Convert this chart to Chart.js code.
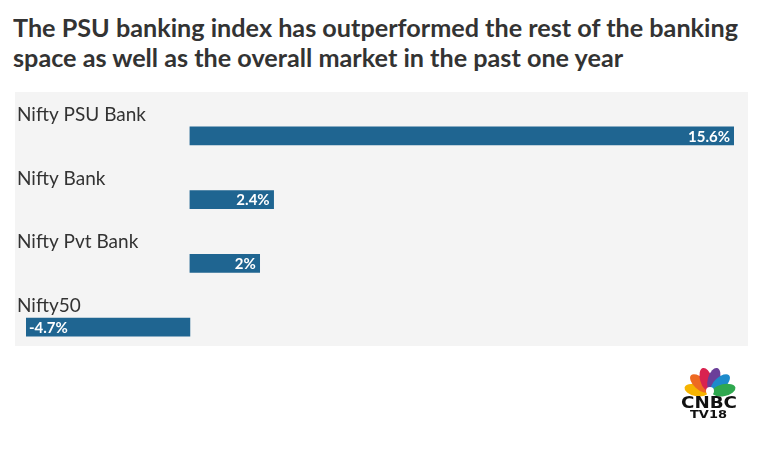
<!DOCTYPE html>
<html lang="en">
<head>
  <meta charset="UTF-8">
  <title>PSU Banking Index Performance</title>
  <script src="https://cdn.jsdelivr.net/npm/chart.js"></script>
  <style>
    html, body {
      margin: 0;
      padding: 0;
      background: #fff;
      width: 760px;
      height: 462px;
      overflow: hidden;
      font-family: 'Lato', sans-serif;
    }
    #title {
      position: absolute;
      left: 13px;
      top: 13px;
      margin: 0;
      font-weight: bold;
      font-size: 24px;
      line-height: 30px;
      color: #333;
      white-space: nowrap;
    }
    #title span {
      display: inline-block;
      transform-origin: left center;
    }
    #panel {
      position: absolute;
      left: 15px;
      top: 92px;
      width: 733px;
      height: 254px;
      background: #f4f4f4;
    }
    #wrap {
      position: absolute;
      left: 0;
      top: 0;
      width: 760px;
      height: 462px;
    }
    #logo {
      position: absolute;
      left: 678px;
      top: 362px;
    }
  </style>
</head>
<body>

  <h1 id="title"><span>The PSU banking index has outperformed the rest of the banking</span><br><span>space as well as the overall market in the past one year</span></h1>
  <div id="panel"></div>
  <div id="wrap"><canvas id="chart" width="760" height="462"></canvas></div>

  <svg id="logo" width="64" height="60" viewBox="0 0 64 60">
    <g transform="translate(32,31)">
      <ellipse cx="0" cy="-14" rx="6" ry="12" fill="#f6b400" transform="rotate(-78)"/>
      <ellipse cx="0" cy="-14" rx="6" ry="12" fill="#ee6a22" transform="rotate(-47)"/>
      <ellipse cx="0" cy="-14" rx="6" ry="12" fill="#d9234f" transform="rotate(-16)"/>
      <ellipse cx="0" cy="-14" rx="6" ry="12" fill="#6b3f99" transform="rotate(16)"/>
      <ellipse cx="0" cy="-14" rx="6" ry="12" fill="#1d8acb" transform="rotate(47)"/>
      <ellipse cx="0" cy="-14" rx="6" ry="12" fill="#2fa84f" transform="rotate(78)"/>
      <circle cx="0" cy="-2" r="4" fill="#fff"/>
    </g>
    <text x="3" y="46" font-family="DejaVu Sans" font-weight="bold" font-size="15" textLength="56" lengthAdjust="spacingAndGlyphs" fill="#111">CNBC</text>
    <text x="12" y="56" font-family="DejaVu Sans" font-weight="bold" font-size="11" textLength="37" lengthAdjust="spacingAndGlyphs" fill="#111">TV18</text>
  </svg>

  <script>
    const categories = ['Nifty PSU Bank', 'Nifty Bank', 'Nifty Pvt Bank', 'Nifty50'];
    const returns = [15.6, 2.4, 2, -4.7];
    const valueLabels = ['15.6%', '2.4%', '2%', '-4.7%'];

    const barColor = '#1f6591';

    // stretch title to the reference width (same factor on both lines)
    const titleSpans = document.querySelectorAll('#title span');
    const stretch = 725 / titleSpans[0].getBoundingClientRect().width;
    titleSpans.forEach(s => { s.style.transform = 'scaleX(' + stretch + ')'; });

    // category names above bars, values inside bar ends
    const labelPlugin = {
      id: 'barLabels',
      afterDatasetsDraw(chart) {
        const c = chart.ctx;
        const meta = chart.getDatasetMeta(0);
        meta.data.forEach((bar, i) => {
          const top = bar.y - bar.height / 2;
          c.save();
          c.fillStyle = '#333';
          c.font = '19px Lato, sans-serif';
          c.textAlign = 'left';
          c.textBaseline = 'alphabetic';
          c.fillText(categories[i], 17, top - 6);

          c.fillStyle = '#fff';
          c.font = 'bold 15px Lato, sans-serif';
          c.textBaseline = 'middle';
          if (returns[i] >= 0) {
            c.textAlign = 'right';
            c.fillText(valueLabels[i], bar.x - 4, bar.y + 1);
          } else {
            c.textAlign = 'left';
            c.fillText(valueLabels[i], bar.x + 3, bar.y + 1);
          }
          c.restore();
        });
      }
    };

    const ctx = document.getElementById('chart').getContext('2d');
    const chart = new Chart(ctx, {
      type: 'bar',
      data: {
        labels: categories,
        datasets: [{
          data: returns,
          backgroundColor: barColor,
          borderWidth: 0,
          barThickness: 18
        }]
      },
      options: {
        indexAxis: 'y',
        responsive: false,
        animation: false,
        layout: {
          padding: { left: 26, right: 26, top: 104, bottom: 103 }
        },
        scales: {
          x: { display: false, min: -4.7, max: 15.6 },
          y: { display: false }
        },
        plugins: {
          legend: { display: false },
          tooltip: { enabled: false }
        }
      },
      plugins: [labelPlugin]
    });
  </script>

</body>
</html>
